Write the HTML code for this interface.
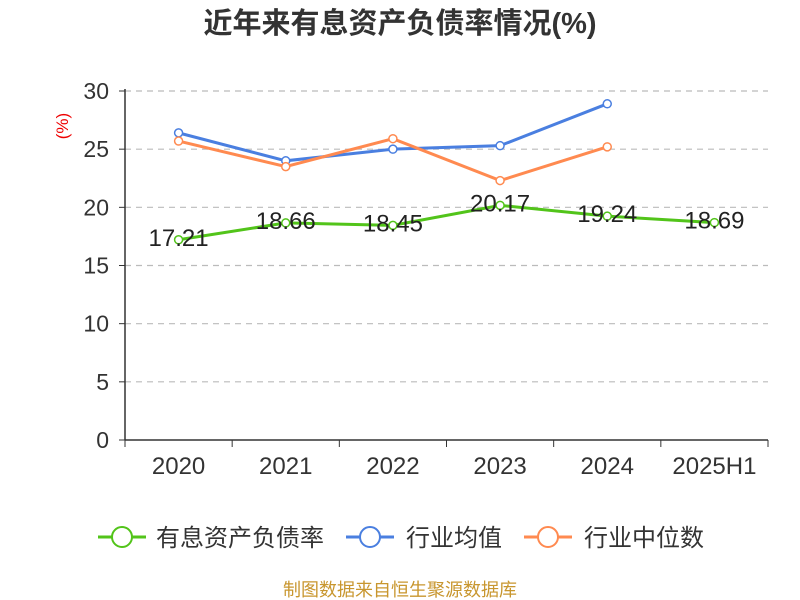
<!DOCTYPE html>
<html><head><meta charset="utf-8"><style>
body{margin:0;background:#fff;}
svg{display:block;font-family:"Liberation Sans","Noto Sans CJK SC",sans-serif;}
</style></head><body>
<svg id="chart" width="800" height="600">
<text x="400" y="33" text-anchor="middle" font-size="29" font-weight="bold" fill="#333">近年来有息资产负债率情况(%)</text>
<text x="68" y="126" text-anchor="middle" font-size="17" fill="#e00" transform="rotate(-90 68 126)">(%)</text>
<g id="grid"></g><g id="axes"></g><g id="series"></g>
<g>
<g><line x1="98" y1="537" x2="146" y2="537" stroke="#52c41a" stroke-width="3"/><circle cx="122" cy="537" r="10" fill="#fff" stroke="#52c41a" stroke-width="2"/><text x="156" y="546" font-size="24" fill="#333">有息资产负债率</text></g>
<g><line x1="346" y1="537" x2="394" y2="537" stroke="#4a7fe0" stroke-width="3"/><circle cx="370" cy="537" r="10" fill="#fff" stroke="#4a7fe0" stroke-width="2"/><text x="406" y="546" font-size="24" fill="#333">行业均值</text></g>
<g><line x1="524" y1="537" x2="572" y2="537" stroke="#ff8a50" stroke-width="3"/><circle cx="548" cy="537" r="10" fill="#fff" stroke="#ff8a50" stroke-width="2"/><text x="584" y="546" font-size="24" fill="#333">行业中位数</text></g>
</g>
<text x="400" y="596" text-anchor="middle" font-size="18" fill="#c8962e">制图数据来自恒生聚源数据库</text>
</svg>
<script>
const categories=["2020","2021","2022","2023","2024","2025H1"];
const company=[17.21,18.66,18.45,20.17,19.24,18.69];
const industryAvg=[26.4,24.0,25.0,25.3,28.9];
const industryMedian=[25.7,23.5,25.9,22.3,25.2];
const yTicks=[0,5,10,15,20,25,30];
const NS="http://www.w3.org/2000/svg";
const x0=125,x1=768,y0=440,y1=91,yMax=30;
const band=(x1-x0)/categories.length;
const X=i=>x0+band*(i+0.5);
const Y=v=>y0-(v/yMax)*(y0-y1);
function mk(tag,attrs,parent,txt){const e=document.createElementNS(NS,tag);for(const k in attrs)e.setAttribute(k,attrs[k]);if(txt!==undefined)e.textContent=txt;document.getElementById(parent).appendChild(e);return e;}
yTicks.forEach(t=>{
 if(t>0){const g=mk('line',{x1:x0,x2:x1,y1:Y(t),y2:Y(t),stroke:'#bbb','stroke-dasharray':'6,5','stroke-width':1.2},'grid');
 
 }
 const tk=mk('line',{x1:x0-6,x2:x0,y1:Y(t),y2:Y(t),stroke:'#333'},'axes');
 
 
 const l=mk('text',{x:x0-16,y:Y(t)+8,'text-anchor':'end','font-size':23,fill:'#333'},'axes',t);
 
 
});
const ya=mk('line',{x1:x0,x2:x0,y1:y1-2,y2:y0,stroke:'#333','stroke-width':1.5},'axes');


const xa=mk('line',{x1:x0,x2:x1,y1:y0,y2:y0,stroke:'#333','stroke-width':1.5},'axes');


for(let i=0;i<=categories.length;i++){const t=mk('line',{x1:x0+band*i,x2:x0+band*i,y1:y0,y2:y0+7,stroke:'#333'},'axes');
 
 }
categories.forEach((c,i)=>{const l=mk('text',{x:X(i),y:y0+34,'text-anchor':'middle','font-size':24,fill:'#333'},'axes',c);
 
 });
function series(data,color,name,labels){
 const p=mk('polyline',{points:data.map((v,i)=>X(i)+','+Y(v)).join(' '),fill:'none',stroke:color,'stroke-width':3},'series');
 
 
 data.forEach((v,i)=>{const c=mk('circle',{cx:X(i),cy:Y(v),r:4,fill:'#fff',stroke:color,'stroke-width':1.5},'series');
  
  
  if(labels){const t=mk('text',{x:X(i),y:Y(v)+6,'text-anchor':'middle','font-size':24,fill:'#222'},'series',v.toFixed(2));
   
   }
 });
}
series(company,'#52c41a','company',true);
series(industryAvg,'#4a7fe0','industry-avg',false);
series(industryMedian,'#ff8a50','industry-median',false);
</script>
</body></html>
